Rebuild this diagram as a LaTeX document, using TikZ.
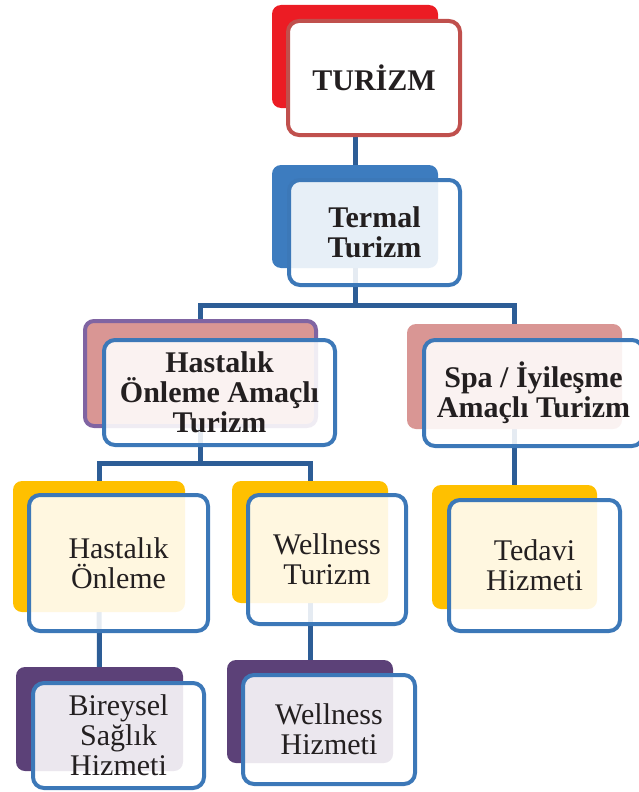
\documentclass[tikz,border=0pt]{standalone}
\usepackage{fontspec}
\setmainfont{Liberation Serif}
\usetikzlibrary{backgrounds,positioning}

\definecolor{tred}{HTML}{EC1C24}
\definecolor{tredline}{HTML}{C0504D}
\definecolor{tblue}{HTML}{3D7CBF}
\definecolor{rose}{HTML}{D99694}
\definecolor{purpline}{HTML}{8064A2}
\definecolor{gold}{HTML}{FFC000}
\definecolor{plum}{HTML}{5C4178}
\definecolor{boxblue}{HTML}{3C78B8}
\definecolor{linkblue}{HTML}{2D5D96}
\definecolor{txt}{HTML}{231F20}

\begin{document}
\begin{tikzpicture}[x=1pt,y=-1pt,
    back/.style={rectangle,rounded corners=9pt,inner sep=0pt},
    front/.style={rectangle,rounded corners=11pt,draw=boxblue,line width=4pt,
      fill=white,fill opacity=.88,text opacity=1,text=txt,align=center,
      font=\fontsize{30}{30}\selectfont},
    head/.style={front,font=\fontsize{30}{30}\selectfont\bfseries},
    link/.style={draw=linkblue,line width=5pt}]
  \useasboundingbox (0,0) rectangle (638,792);

  % level 0
  \node[back,fill=tred,minimum width=166pt,minimum height=103pt] (turizmB) at (355,56.5) {};
  \node[head,draw=tredline,fill opacity=1,minimum width=172pt,minimum height=114pt] (turizm) at (374,78) {TURİZM};

  % level 1
  \node[back,fill=tblue,minimum width=166pt,minimum height=103pt] (termalB) at (355,216.5) {};
  \node[head,minimum width=171pt,minimum height=105pt] (termal) at (374.5,232.5) {Termal\\Turizm};

  % level 2
  \node[back,fill=rose,draw=purpline,line width=4pt,minimum width=231pt,minimum height=105pt] (hastalikB) at (200.5,373.5) {};
  \node[head,minimum width=231pt,minimum height=105pt] (hastalik) at (219.5,392.5) {Hastalık\\Önleme Amaçlı\\Turizm};
  \node[back,fill=rose,minimum width=215pt,minimum height=105pt] (spaB) at (514.5,376.5) {};
  \node[head,minimum width=219pt,minimum height=106pt] (spa) at (533.5,393) {Spa / İyileşme\\Amaçlı Turizm};

  % level 3
  \node[back,fill=gold,minimum width=172pt,minimum height=131pt] (onlemeB) at (99,546.5) {};
  \node[front,minimum width=179pt,minimum height=136pt] (onleme) at (118.5,563) {Hastalık\\Önleme};
  \node[back,fill=gold,minimum width=156pt,minimum height=122pt] (wellnessB) at (310,542) {};
  \node[front,minimum width=158pt,minimum height=129pt] (wellness) at (327,559.5) {Wellness\\Turizm};
  \node[back,fill=gold,minimum width=165pt,minimum height=124pt] (tedaviB) at (514.5,547) {};
  \node[front,minimum width=171pt,minimum height=131pt] (tedavi) at (534.5,565.5) {Tedavi\\Hizmeti};

  % level 4
  \node[back,fill=plum,minimum width=167pt,minimum height=104pt] (bireyselB) at (99.5,719) {};
  \node[front,minimum width=171pt,minimum height=105pt] (bireysel) at (118.5,735.5) {Bireysel\\Sağlık\\Hizmeti};
  \node[back,fill=plum,minimum width=166pt,minimum height=103pt] (whizmetB) at (310,711.5) {};
  \node[front,minimum width=172pt,minimum height=109pt] (whizmet) at (329,729.5) {Wellness\\Hizmeti};

  % connectors behind the boxes
  \begin{pgfonlayer}{background}
    \coordinate (bus1) at (termalB |- 0,305);
    \coordinate (bus2) at (hastalikB |- 0,463);
    \draw[link] (turizmB) -- (termalB);
    \draw[link] (termalB) -- (bus1) -| (hastalikB);
    \draw[link] (bus1) -| (spaB);
    \draw[link] (hastalikB) -- (bus2) -| (onlemeB);
    \draw[link] (bus2) -| (wellnessB);
    \draw[link] (spaB) -- (tedaviB);
    \draw[link] (onlemeB) -- (bireyselB);
    \draw[link] (wellnessB) -- (whizmetB);
  \end{pgfonlayer}
\end{tikzpicture}
\end{document}
